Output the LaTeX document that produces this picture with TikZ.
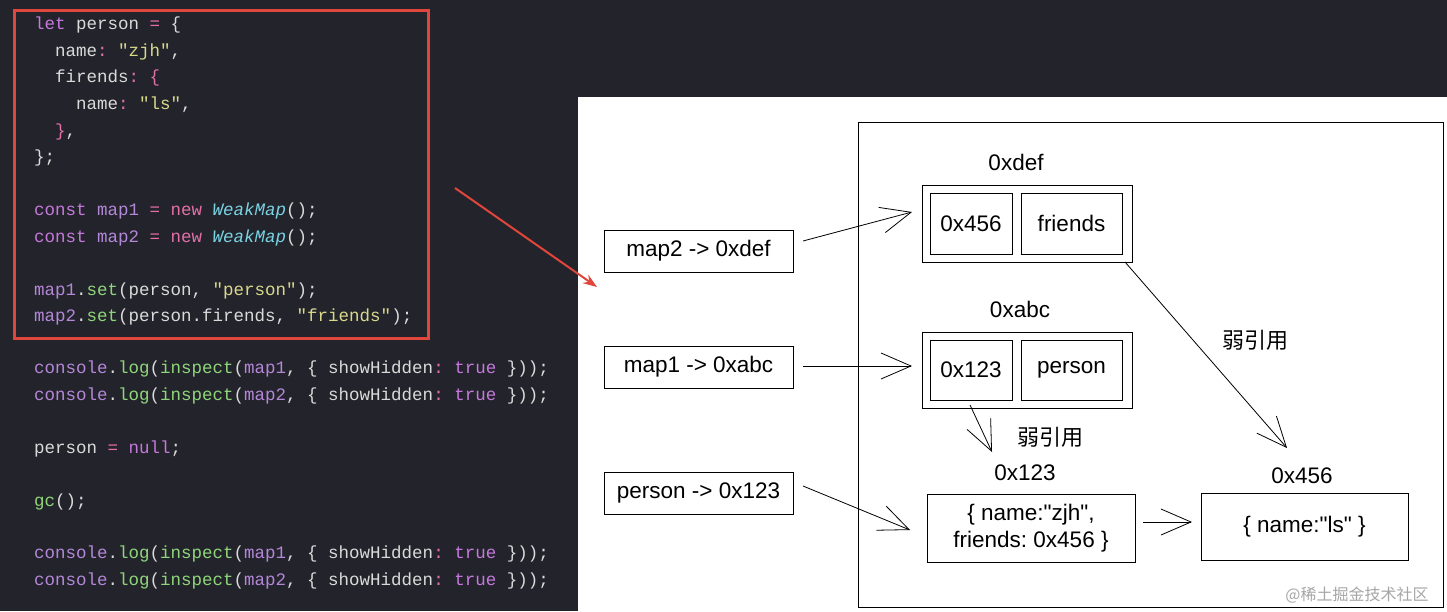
\documentclass[tikz,border=0pt]{standalone}
\usepackage{fontspec}
\setmainfont{Liberation Sans}
\newfontfamily\dsans{Liberation Sans}
\setmonofont{Liberation Mono}
\newfontfamily\cjk{Noto Sans CJK SC}
\usetikzlibrary{arrows.meta}
\definecolor{bg}{HTML}{23232B}
\definecolor{kw}{HTML}{C678DD}
\definecolor{nw}{HTML}{E36FA8}
\definecolor{st}{HTML}{D9D98C}
\definecolor{fn}{HTML}{8FD67A}
\definecolor{cl}{HTML}{79D3E3}
\definecolor{tx}{HTML}{DADADA}
\definecolor{vr}{HTML}{B487D9}
\definecolor{redbox}{HTML}{E0463B}
\newcommand{\K}[1]{\textcolor{kw}{#1}}
\newcommand{\N}[1]{\textcolor{nw}{#1}}
\newcommand{\Sg}[1]{\textcolor{st}{#1}}
\newcommand{\F}[1]{\textcolor{fn}{#1}}
\newcommand{\C}[1]{\textcolor{cl}{\itshape #1}}
\newcommand{\V}[1]{\textcolor{vr}{#1}}
\frenchspacing
\begin{document}
\begin{tikzpicture}[x=1pt,y=-1pt,
  code/.style={anchor=base west,inner sep=0,text=tx,font=\ttfamily\fontsize{17.5}{20}\selectfont},
  box/.style={draw=black,line width=0.8pt,minimum height=42pt,font=\dsans\fontsize{22.5}{26}\selectfont},
  lab/.style={font=\dsans\fontsize{22.5}{26}\selectfont},
  arr/.style={line width=0.8pt,-{Straight Barb[length=30pt,width=26pt,line width=0.8pt]}}]
\useasboundingbox (0,0) rectangle (1447,611);
\fill[bg] (0,0) rectangle (1447,611);
\fill[white] (578,97) rectangle (1447,611);
\draw[redbox,line width=3pt] (14,10) rectangle (428,338);
% code
\node[code] (l1) at (34,29) {\K{let} person \N{=} \{};
\node[code] (l2) at (55,56) {name\N{:} \Sg{"zjh"},};
\node[code] (l3) at (55,82) {firends\N{:} \N{\{}};
\node[code] (l4) at (76,109) {name\N{:} \Sg{"ls"},};
\node[code] (l5) at (55,136) {\N{\}},};
\node[code] (l6) at (34,162) {\};};
\node[code] (l7) at (34,215) {\K{const} \V{map1} \N{=} \N{new} \C{WeakMap}();};
\node[code] (l8) at (34,242) {\K{const} \V{map2} \N{=} \N{new} \C{WeakMap}();};
\node[code] (l9) at (34,295) {\V{map1}.\F{set}(person, \Sg{"person"});};
\node[code] (l10) at (34,321) {\V{map2}.\F{set}(person.firends, \Sg{"friends"});};
\node[code] (l11) at (34,373) {\V{console}.\F{log}(\F{inspect}(\V{map1}, \{ showHidden\N{:} \K{true} \}));};
\node[code] (l12) at (34,400) {\V{console}.\F{log}(\F{inspect}(\V{map2}, \{ showHidden\N{:} \K{true} \}));};
\node[code] (l13) at (34,453) {person \N{=} \K{null};};
\node[code] (l14) at (34,506) {\F{gc}();};
\node[code] (l15) at (34,558) {\V{console}.\F{log}(\F{inspect}(\V{map1}, \{ showHidden\N{:} \K{true} \}));};
\node[code] (l16) at (34,585) {\V{console}.\F{log}(\F{inspect}(\V{map2}, \{ showHidden\N{:} \K{true} \}));};
\coordinate (ra) at (455,188);
\coordinate (rb) at (597,287);
\draw[redbox,line width=2pt,-{Stealth[length=14pt,width=10pt]}] (ra) -- (rb);
% diagram
\draw[line width=0.8pt] (858,122) rectangle (1443,607);
\node[box,minimum width=189pt] (m2) at (698.5,251) {map2 -> 0xdef};
\node[box,minimum width=189pt] (m1) at (698.5,367) {map1 -> 0xabc};
\node[box,minimum width=189pt] (p) at (698.5,493) {person -> 0x123};
\node[box,minimum width=210pt,minimum height=77pt] (def) at (1027,223.5) {};
\node[box,minimum width=82pt,minimum height=61pt] (d1) at (971,223.5) {0x456};
\node[box,minimum width=101pt,minimum height=61pt] (d2) at (1071.5,223.5) {friends};
\node[lab] (ldef) at (1016,162) {0xdef};
\node[box,minimum width=210pt,minimum height=76pt] (abc) at (1027,370) {};
\node[box,minimum width=82pt,minimum height=60pt] (a1) at (971,370) {0x123};
\node[box,minimum width=101pt,minimum height=60pt] (a2) at (1071.5,370) {person};
\node[lab] (labc) at (1020,309) {0xabc};
\node[box,minimum width=208pt,minimum height=68pt,align=center,font=\dsans\fontsize{22.5}{27}\selectfont] (o1) at (1031,528) {\{ name:"zjh",\\friends: 0x456 \}};
\node[lab] (l123) at (1025,473) {0x123};
\node[box,minimum width=207pt,minimum height=67pt] (o2) at (1304.5,526.5) {\{ name:"ls" \}};
\node[lab] (l456) at (1302,476) {0x456};
\node[font=\cjk\fontsize{22}{26}\selectfont] (w1) at (1255,340) {弱引用};
\node[font=\cjk\fontsize{22}{26}\selectfont] (w2) at (1050,437) {弱引用};
\node[font=\cjk\fontsize{16}{20}\selectfont,text=gray!70] (wm) at (1357,595) {@稀土掘金技术社区};
\coordinate (e1) at (912,212);
\coordinate (e2) at (912,366);
\coordinate (e3) at (910,530);
\coordinate (e4) at (1287,448);
\coordinate (e5) at (992,452);
\coordinate (e6) at (1192,522);
\draw[arr] (803,241) -- (e1);
\draw[arr] (803,366) -- (e2);
\draw[arr] (803,486) -- (e3);
\draw[arr] (1125,262) -- (e4);
\draw[arr] (970,405) -- (e5);
\draw[arr] (1143,522) -- (e6);
\end{tikzpicture}
\end{document}
